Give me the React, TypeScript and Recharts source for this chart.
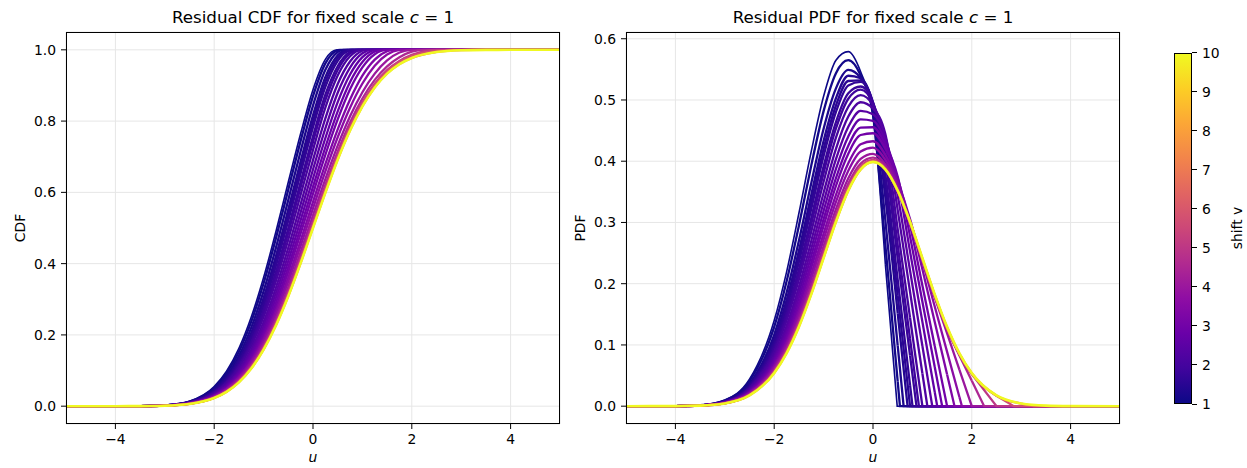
import { LineChart, Line, XAxis, YAxis, CartesianGrid } from 'recharts';

const U = [-5, -4, -3.5, -3, -2.5, -2, -1.75, -1.5, -1.25, -1, -0.75, -0.5, -0.25, 0, 0.25, 0.5, 0.75, 1, 1.25, 1.5, 1.75, 2, 2.5, 3, 3.5, 4, 5];

// shift v of each drawn curve, and the u where its support ends
const SHIFTS = [1, 1.1, 1.25, 1.4, 1.5, 1.6, 1.75, 1.85, 2, 2.2, 2.4, 2.6, 2.8, 3.0, 3.3, 3.6, 4, 4.5, 5, 5.7, 6.5, 10];
const CUTOFFS = [0.49, 0.545, 0.62, 0.7, 0.75, 0.8, 0.88, 0.93, 1.0, 1.1, 1.2, 1.3, 1.4, 1.5, 1.65, 1.8, 2.0, 2.25, 2.5, 2.85, 3.25, 5];

// CDF values at U
const cdfV1 = [0, 0, 0.0004, 0.0026, 0.014, 0.055, 0.098, 0.162, 0.25, 0.361, 0.49, 0.629, 0.765, 0.888, 0.973, 1, 1, 1, 1, 1, 1, 1, 1, 1, 1, 1, 1];
const cdfV11 = [0, 0, 0.0003, 0.0025, 0.0132, 0.0518, 0.0922, 0.153, 0.2374, 0.3449, 0.4716, 0.6083, 0.7446, 0.8699, 0.9619, 0.9991, 1, 1, 1, 1, 1, 1, 1, 1, 1, 1, 1];
const cdfV125 = [0, 0, 0.0003, 0.0023, 0.012, 0.0475, 0.0847, 0.1412, 0.2204, 0.3227, 0.4448, 0.579, 0.7156, 0.8435, 0.9438, 0.994, 1, 1, 1, 1, 1, 1, 1, 1, 1, 1, 1];
const cdfV14 = [0, 0, 0.0003, 0.0022, 0.0113, 0.0441, 0.0789, 0.1319, 0.2065, 0.3037, 0.4213, 0.5522, 0.6871, 0.8159, 0.9233, 0.9848, 1, 1, 1, 1, 1, 1, 1, 1, 1, 1, 1];
const cdfV15 = [0, 0, 0.0003, 0.0021, 0.0109, 0.0425, 0.0758, 0.1267, 0.1987, 0.2932, 0.4076, 0.5363, 0.6698, 0.7989, 0.91, 0.9775, 1, 1, 1, 1, 1, 1, 1, 1, 1, 1, 1];
const cdfV16 = [0, 0, 0.0003, 0.0021, 0.0105, 0.041, 0.073, 0.1219, 0.192, 0.2831, 0.3946, 0.5212, 0.6537, 0.7827, 0.8959, 0.969, 0.9991, 1, 1, 1, 1, 1, 1, 1, 1, 1, 1];
const cdfV175 = [0, 0, 0.0003, 0.002, 0.0101, 0.039, 0.0694, 0.1159, 0.1819, 0.2693, 0.3768, 0.4993, 0.6292, 0.7572, 0.874, 0.954, 0.9946, 1, 1, 1, 1, 1, 1, 1, 1, 1, 1];
const cdfV185 = [0, 0, 0.0003, 0.002, 0.0099, 0.0379, 0.0674, 0.1124, 0.1764, 0.2616, 0.3662, 0.4867, 0.6147, 0.7418, 0.8587, 0.9435, 0.9901, 1, 1, 1, 1, 1, 1, 1, 1, 1, 1];
const cdfV2 = [0, 0, 0.0003, 0.002, 0.0097, 0.0366, 0.0648, 0.1079, 0.1693, 0.2505, 0.3514, 0.468, 0.5935, 0.719, 0.8375, 0.9278, 0.982, 1, 1, 1, 1, 1, 1, 1, 1, 1, 1];
const cdfV22 = [0, 0, 0.0003, 0.0019, 0.0092, 0.0344, 0.0607, 0.1014, 0.1593, 0.2366, 0.333, 0.4451, 0.5669, 0.6906, 0.8074, 0.904, 0.9673, 0.9973, 1, 1, 1, 1, 1, 1, 1, 1, 1];
const cdfV24 = [0, 0, 0.0003, 0.0019, 0.0089, 0.033, 0.0581, 0.0967, 0.1518, 0.2255, 0.3178, 0.4256, 0.5438, 0.6641, 0.7793, 0.8796, 0.9502, 0.9902, 1, 1, 1, 1, 1, 1, 1, 1, 1];
const cdfV26 = [0, 0, 0.0003, 0.0018, 0.0086, 0.0316, 0.0556, 0.0923, 0.1447, 0.2154, 0.3038, 0.4075, 0.5219, 0.639, 0.752, 0.8532, 0.9306, 0.9794, 0.9994, 1, 1, 1, 1, 1, 1, 1, 1];
const cdfV28 = [0, 0, 0.0003, 0.0018, 0.0082, 0.0302, 0.053, 0.0881, 0.1382, 0.2056, 0.2907, 0.3907, 0.5016, 0.6159, 0.7266, 0.8274, 0.9099, 0.9659, 0.9952, 1, 1, 1, 1, 1, 1, 1, 1];
const cdfV30 = [0, 0, 0.0003, 0.0017, 0.008, 0.0292, 0.0509, 0.0844, 0.1324, 0.1982, 0.2789, 0.3772, 0.4846, 0.5962, 0.7051, 0.8046, 0.8893, 0.9508, 0.9877, 1, 1, 1, 1, 1, 1, 1, 1];
const cdfV33 = [0, 0, 0.0003, 0.0017, 0.0078, 0.0282, 0.0493, 0.0816, 0.1277, 0.19, 0.2684, 0.3617, 0.4649, 0.5733, 0.679, 0.7766, 0.8605, 0.9274, 0.9725, 0.9961, 1, 1, 1, 1, 1, 1, 1];
const cdfV36 = [0, 0, 0.0003, 0.0017, 0.0076, 0.0273, 0.0476, 0.0787, 0.1233, 0.1833, 0.2592, 0.3494, 0.45, 0.5552, 0.6588, 0.7546, 0.8376, 0.9054, 0.9553, 0.9867, 0.9996, 1, 1, 1, 1, 1, 1];
const cdfV4 = [0, 0, 0.0003, 0.0016, 0.0073, 0.0262, 0.0456, 0.0753, 0.118, 0.1756, 0.2486, 0.3356, 0.433, 0.5356, 0.637, 0.7311, 0.8134, 0.881, 0.9332, 0.9703, 0.9926, 1, 1, 1, 1, 1, 1];
const cdfV45 = [0, 0, 0.0003, 0.0015, 0.0069, 0.0248, 0.0435, 0.072, 0.1132, 0.1689, 0.24, 0.3249, 0.4202, 0.521, 0.6211, 0.7143, 0.7961, 0.8635, 0.9156, 0.9536, 0.9793, 0.9948, 1, 1, 1, 1, 1];
const cdfV5 = [0, 0, 0.0003, 0.0015, 0.0066, 0.0241, 0.0421, 0.0699, 0.1101, 0.1648, 0.2345, 0.318, 0.4122, 0.5119, 0.6111, 0.7039, 0.7854, 0.8526, 0.9049, 0.9429, 0.969, 0.9858, 1, 1, 1, 1, 1];
const cdfV57 = [0, 0, 0.0002, 0.0014, 0.0065, 0.0235, 0.0413, 0.0687, 0.1085, 0.1624, 0.2315, 0.3144, 0.4081, 0.5074, 0.6064, 0.6992, 0.781, 0.8485, 0.9011, 0.9395, 0.9659, 0.9829, 0.997, 1, 1, 1, 1];
const cdfV65 = [0, 0, 0.0002, 0.0014, 0.0063, 0.023, 0.0404, 0.0673, 0.1062, 0.1595, 0.2275, 0.3095, 0.4023, 0.502, 0.5997, 0.6924, 0.7742, 0.842, 0.895, 0.9337, 0.9603, 0.9775, 0.994, 0.9994, 1, 1, 1];
const cdfV10 = [0, 0, 0.0002, 0.0013, 0.0062, 0.0228, 0.0401, 0.0668, 0.1056, 0.1587, 0.2266, 0.3085, 0.4013, 0.5, 0.5987, 0.6915, 0.7734, 0.8413, 0.8944, 0.9332, 0.9599, 0.9772, 0.9938, 0.9987, 0.9998, 1, 1];

// PDF values at U
const pdfV1 = [0, 0.0002, 0.0016, 0.01, 0.044, 0.14, 0.219, 0.315, 0.416, 0.506, 0.565, 0.579, 0.546, 0.473, 0.232, 0, 0, 0, 0, 0, 0, 0, 0, 0, 0, 0, 0];
const pdfV11 = [0, 0.0002, 0.0015, 0.0092, 0.0408, 0.1295, 0.2036, 0.2948, 0.3928, 0.4818, 0.5438, 0.565, 0.5402, 0.4755, 0.2635, 0.0402, 0, 0, 0, 0, 0, 0, 0, 0, 0, 0, 0];
const pdfV125 = [0, 0.0002, 0.0013, 0.0083, 0.0365, 0.1166, 0.185, 0.27, 0.364, 0.453, 0.519, 0.549, 0.536, 0.4826, 0.304, 0.099, 0, 0, 0, 0, 0, 0, 0, 0, 0, 0, 0];
const pdfV14 = [0, 0.0002, 0.0013, 0.0078, 0.034, 0.1087, 0.1727, 0.2538, 0.3449, 0.4331, 0.5028, 0.5396, 0.5354, 0.4911, 0.3411, 0.1516, 0, 0, 0, 0, 0, 0, 0, 0, 0, 0, 0];
const pdfV15 = [0, 0.0002, 0.0013, 0.0075, 0.0327, 0.104, 0.166, 0.244, 0.333, 0.42, 0.491, 0.531, 0.532, 0.4935, 0.36, 0.18, 0, 0, 0, 0, 0, 0, 0, 0, 0, 0, 0];
const pdfV16 = [0, 0.0002, 0.0012, 0.0073, 0.0314, 0.1001, 0.1593, 0.2353, 0.322, 0.4085, 0.4805, 0.5238, 0.5294, 0.496, 0.3785, 0.2065, 0.0344, 0, 0, 0, 0, 0, 0, 0, 0, 0, 0];
const pdfV175 = [0, 0.0002, 0.0012, 0.0071, 0.03, 0.0949, 0.151, 0.2234, 0.307, 0.3916, 0.464, 0.511, 0.522, 0.496, 0.4, 0.241, 0.0825, 0, 0, 0, 0, 0, 0, 0, 0, 0, 0];
const pdfV185 = [0, 0.0002, 0.0012, 0.0069, 0.0292, 0.0919, 0.1462, 0.2164, 0.2977, 0.381, 0.4535, 0.502, 0.517, 0.4948, 0.4156, 0.2628, 0.11, 0, 0, 0, 0, 0, 0, 0, 0, 0, 0];
const pdfV2 = [0, 0.0002, 0.0012, 0.0068, 0.0282, 0.088, 0.14, 0.2069, 0.285, 0.3664, 0.4385, 0.489, 0.508, 0.4917, 0.4333, 0.289, 0.1444, 0, 0, 0, 0, 0, 0, 0, 0, 0, 0];
const pdfV22 = [0, 0.0002, 0.0012, 0.0065, 0.0265, 0.0826, 0.1313, 0.1949, 0.2698, 0.3486, 0.4203, 0.4729, 0.4963, 0.4861, 0.4443, 0.3201, 0.1867, 0.0534, 0, 0, 0, 0, 0, 0, 0, 0, 0];
const pdfV24 = [0, 0.0002, 0.0012, 0.0063, 0.0255, 0.0787, 0.125, 0.1854, 0.257, 0.333, 0.4033, 0.4562, 0.4823, 0.4765, 0.4398, 0.344, 0.2213, 0.0983, 0, 0, 0, 0, 0, 0, 0, 0, 0];
const pdfV26 = [0, 0.0002, 0.0012, 0.0061, 0.0244, 0.0751, 0.1191, 0.1768, 0.2455, 0.3189, 0.3874, 0.4404, 0.4682, 0.4658, 0.4334, 0.367, 0.2523, 0.1376, 0.0229, 0, 0, 0, 0, 0, 0, 0, 0];
const pdfV28 = [0, 0.0002, 0.0011, 0.0058, 0.0233, 0.0715, 0.1134, 0.1685, 0.2345, 0.3054, 0.3725, 0.4254, 0.455, 0.4555, 0.4271, 0.375, 0.2772, 0.1706, 0.064, 0, 0, 0, 0, 0, 0, 0, 0];
const pdfV30 = [0, 0.0002, 0.0011, 0.0057, 0.0226, 0.0689, 0.1092, 0.1621, 0.2257, 0.2943, 0.3599, 0.4123, 0.4428, 0.4457, 0.4204, 0.3717, 0.2953, 0.1969, 0.0984, 0, 0, 0, 0, 0, 0, 0, 0];
const pdfV33 = [0, 0.0002, 0.0011, 0.0056, 0.0219, 0.0661, 0.1046, 0.1551, 0.2159, 0.2818, 0.3452, 0.3966, 0.4276, 0.4326, 0.4105, 0.3656, 0.3054, 0.2235, 0.1375, 0.0516, 0, 0, 0, 0, 0, 0, 0];
const pdfV36 = [0, 0.0002, 0.0011, 0.0055, 0.0212, 0.0638, 0.1008, 0.1495, 0.2082, 0.272, 0.3337, 0.3844, 0.4158, 0.4221, 0.4023, 0.36, 0.3024, 0.2366, 0.1627, 0.0887, 0.0148, 0, 0, 0, 0, 0, 0];
const pdfV4 = [0, 0.0002, 0.0011, 0.0052, 0.0203, 0.061, 0.0964, 0.1431, 0.1996, 0.2614, 0.3217, 0.372, 0.4039, 0.4121, 0.3949, 0.3556, 0.3008, 0.239, 0.178, 0.1188, 0.0594, 0, 0, 0, 0, 0, 0];
const pdfV45 = [0, 0.0002, 0.001, 0.0049, 0.0192, 0.0583, 0.0925, 0.1378, 0.1929, 0.2536, 0.3133, 0.3635, 0.3963, 0.4058, 0.3904, 0.3528, 0.2995, 0.2389, 0.179, 0.1259, 0.0828, 0.0414, 0, 0, 0, 0, 0];
const pdfV5 = [0, 0.0001, 0.0009, 0.0047, 0.0186, 0.0566, 0.09, 0.1345, 0.1887, 0.2487, 0.3079, 0.3583, 0.3915, 0.402, 0.3876, 0.3511, 0.2988, 0.239, 0.1794, 0.1266, 0.0839, 0.0523, 0, 0, 0, 0, 0];
const pdfV57 = [0, 0.0001, 0.0009, 0.0046, 0.0182, 0.0556, 0.0886, 0.1325, 0.1863, 0.2462, 0.3054, 0.356, 0.3898, 0.401, 0.3875, 0.3517, 0.2999, 0.2403, 0.1809, 0.1278, 0.0849, 0.053, 0.017, 0, 0, 0, 0];
const pdfV65 = [0, 0.0001, 0.0009, 0.0045, 0.0178, 0.0545, 0.087, 0.1302, 0.1833, 0.2426, 0.3015, 0.3523, 0.3866, 0.3989, 0.3862, 0.3513, 0.3, 0.2408, 0.1815, 0.1285, 0.0855, 0.0534, 0.0172, 0.0043, 0, 0, 0];
const pdfV10 = [0, 0.0001, 0.0009, 0.0044, 0.0175, 0.054, 0.0863, 0.1295, 0.1826, 0.242, 0.3011, 0.3521, 0.3867, 0.3989, 0.3867, 0.3521, 0.3011, 0.242, 0.1826, 0.1295, 0.0863, 0.054, 0.0175, 0.0044, 0.0009, 0.0001, 0];

const CDF_ROWS = [cdfV1, cdfV11, cdfV125, cdfV14, cdfV15, cdfV16, cdfV175, cdfV185, cdfV2, cdfV22, cdfV24, cdfV26, cdfV28, cdfV30, cdfV33, cdfV36, cdfV4, cdfV45, cdfV5, cdfV57, cdfV65, cdfV10];
const PDF_ROWS = [pdfV1, pdfV11, pdfV125, pdfV14, pdfV15, pdfV16, pdfV175, pdfV185, pdfV2, pdfV22, pdfV24, pdfV26, pdfV28, pdfV30, pdfV33, pdfV36, pdfV4, pdfV45, pdfV5, pdfV57, pdfV65, pdfV10];

const X_TICKS = [-4, -2, 0, 2, 4];
const CDF_TICKS = [0, 0.2, 0.4, 0.6, 0.8, 1.0];
const PDF_TICKS = [0, 0.1, 0.2, 0.3, 0.4, 0.5, 0.6];
const CBAR_TICKS = [1, 2, 3, 4, 5, 6, 7, 8, 9, 10];

// matplotlib plasma, 11 stops
const PLASMA = ['#0d0887', '#41049d', '#6a00a8', '#8f0da4', '#b12a90', '#cc4778', '#e16462', '#f2844b', '#fca636', '#fcce25', '#f0f921'];

const FONT = '"DejaVu Sans", sans-serif';
const TICK_FONT = 13.9;

function plasma(t: number) {
  const x = Math.max(0, Math.min(1, t)) * (PLASMA.length - 1);
  const i = Math.min(PLASMA.length - 2, Math.floor(x));
  const f = x - i;
  const a = parseInt(PLASMA[i].slice(1), 16);
  const b = parseInt(PLASMA[i + 1].slice(1), 16);
  const ch = (s: number) => Math.round(((a >> s) & 255) * (1 - f) + ((b >> s) & 255) * f);
  return `rgb(${ch(16)},${ch(8)},${ch(0)})`;
}

const colorOf = (v: number) => plasma((v - 1) / 9);

function cdfSeries(row: number[], cut: number) {
  const pts: { u: number; y: number }[] = [];
  U.forEach((u, j) => { if (u < cut) pts.push({ u, y: row[j] }); });
  pts.push({ u: cut, y: 1 });
  U.forEach((u, j) => { if (u > cut) pts.push({ u, y: row[j] }); });
  return pts;
}

function pdfSeries(row: number[], cut: number) {
  const body: { u: number; y: number }[] = [];
  U.forEach((u, j) => { if (u < cut) body.push({ u, y: row[j] }); });
  const tail = [body[body.length - 1], { u: cut, y: 0 }];
  U.forEach((u, j) => { if (u > cut) tail.push({ u, y: row[j] }); });
  return { body, tail };
}

const fmtX = (v: number) => (v < 0 ? `\u2212${-v}` : `${v}`);
const fmtY = (v: number) => v.toFixed(1);

const widthOf = (i: number) => (i === SHIFTS.length - 1 ? 2.6 : i === 0 ? 1.6 : 2.3);

function Panel({ left, title, ylabel, domain, ticks, kind }: any) {
  const lines: any[] = [];
  SHIFTS.forEach((v, i) => {
    const color = colorOf(v);
    if (kind === 'cdf') {
      lines.push(
        <Line key={`c${i}`} data={cdfSeries(CDF_ROWS[i], CUTOFFS[i])} dataKey="y" type="monotone"
          stroke={color} strokeWidth={widthOf(i)} dot={false} activeDot={false} isAnimationActive={false} />
      );
    } else {
      const s = pdfSeries(PDF_ROWS[i], CUTOFFS[i]);
      lines.push(
        <Line key={`b${i}`} data={s.body} dataKey="y" type="monotone"
          stroke={color} strokeWidth={widthOf(i)} dot={false} activeDot={false} isAnimationActive={false} />
      );
      lines.push(
        <Line key={`t${i}`} data={s.tail} dataKey="y" type="linear"
          stroke={color} strokeWidth={widthOf(i)} dot={false} activeDot={false} isAnimationActive={false} />
      );
    }
  });

  return (
    <div style={{ position: 'absolute', left, top: 0, width: 600, height: 468 }}>
      <LineChart width={600} height={468} margin={{ top: 32, right: 40, bottom: 14, left: 0 }}>
        <CartesianGrid stroke="#e6e6e6" strokeWidth={1} />
        <XAxis type="number" dataKey="u" domain={[-5, 5]} ticks={X_TICKS} allowDataOverflow interval={0}
          axisLine={false} tickLine={{ stroke: '#000' }} tickSize={5} tickMargin={5} height={30}
          tick={{ fill: '#000', fontSize: TICK_FONT }} tickFormatter={fmtX} />
        <YAxis type="number" domain={domain} ticks={ticks} allowDataOverflow interval={0} width={66}
          axisLine={false} tickLine={{ stroke: '#000' }} tickSize={5} tickMargin={5}
          tick={{ fill: '#000', fontSize: TICK_FONT }} tickFormatter={fmtY} />
        {lines}
      </LineChart>
      {/* spines */}
      <div style={{ position: 'absolute', left: 66, top: 32, width: 494, height: 392, border: '1px solid #000', boxSizing: 'border-box', pointerEvents: 'none' }} />
      {/* title */}
      <div style={{ position: 'absolute', left: 66, width: 494, top: 9, textAlign: 'center', fontSize: 16.7, lineHeight: '17px', whiteSpace: 'nowrap' }}>
        {title} <i>c</i>&nbsp;=&nbsp;1
      </div>
      {/* x label */}
      <div style={{ position: 'absolute', left: 66, width: 494, top: 449, textAlign: 'center', fontSize: TICK_FONT, lineHeight: '16px', fontStyle: 'italic' }}>u</div>
      {/* y label */}
      <div style={{ position: 'absolute', left: 20, top: 228, fontSize: TICK_FONT, lineHeight: '16px', whiteSpace: 'nowrap', transform: 'translate(-50%, -50%) rotate(-90deg)' }}>{ylabel}</div>
    </div>
  );
}

function Colorbar() {
  const top = 52.7;
  const bottom = 404;
  const stops = PLASMA.map((c, i) => `${c} ${(i / (PLASMA.length - 1)) * 100}%`).join(', ');
  const yOf = (v: number) => bottom - ((v - 1) / 9) * (bottom - top);
  return (
    <div style={{ position: 'absolute', left: 0, top: 0 }}>
      <div style={{ position: 'absolute', left: 1174, top, width: 18, height: bottom - top, background: `linear-gradient(to top, ${stops})`, border: '1px solid #000', boxSizing: 'border-box' }} />
      {CBAR_TICKS.map((t) => (
        <div key={t}>
          <div style={{ position: 'absolute', left: 1192, top: yOf(t) - 0.5, width: 5, height: 1, background: '#000' }} />
          <div style={{ position: 'absolute', left: 1202, top: yOf(t) - 8, fontSize: TICK_FONT, lineHeight: '16px' }}>{t}</div>
        </div>
      ))}
      <div style={{ position: 'absolute', left: 1237, top: 228, fontSize: TICK_FONT, lineHeight: '16px', whiteSpace: 'nowrap', transform: 'translate(-50%, -50%) rotate(-90deg)' }}>shift v</div>
    </div>
  );
}

export default function App() {
  return (
    <div style={{ position: 'absolute', left: 0, top: 0, width: 1247, height: 468, background: '#fff', fontFamily: FONT, color: '#000', overflow: 'hidden' }}>
      <Panel left={0} kind="cdf" title="Residual CDF for fixed scale" ylabel="CDF" domain={[-0.05, 1.05]} ticks={CDF_TICKS} />
      <Panel left={560} kind="pdf" title="Residual PDF for fixed scale" ylabel="PDF" domain={[-0.0291, 0.611]} ticks={PDF_TICKS} />
      <Colorbar />
    </div>
  );
}
